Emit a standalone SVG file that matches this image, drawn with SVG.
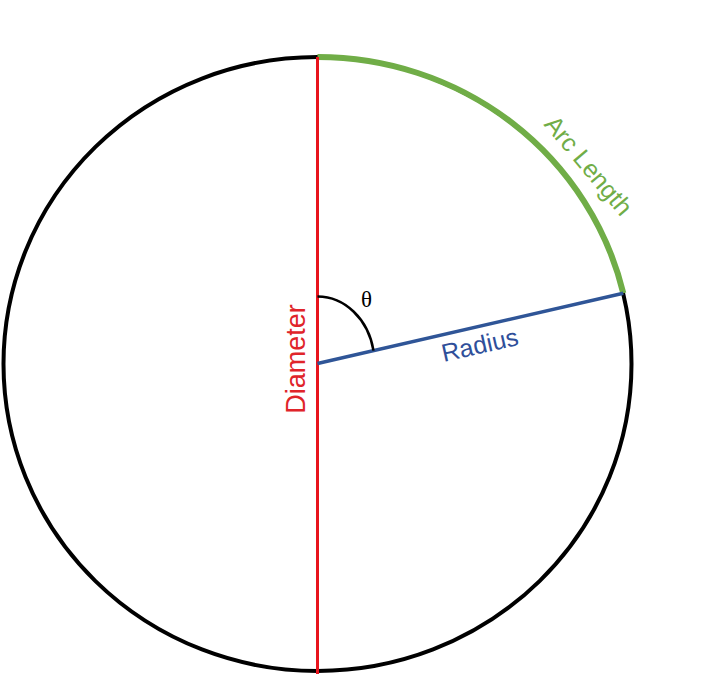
<svg xmlns="http://www.w3.org/2000/svg" width="720" height="674" viewBox="0 0 720 674">
<style>
.lbl{font-family:"Liberation Sans",Arial,sans-serif;}
.circle{fill:none;stroke:#000;stroke-width:4;}
</style>
<rect width="720" height="674" fill="#fff"/>
<g id="circle">
<ellipse class="circle" cx="317.5" cy="364" rx="314" ry="307"/>
</g>
<g id="connectors">
<path id="arc-length" d="M 317.5 57 A 314 307 0 0 1 623.3 293.3" fill="none" stroke="#70ad47" stroke-width="6"/>
<line id="diameter" x1="317.5" y1="57" x2="317.5" y2="674" stroke="#e8141c" stroke-width="3"/>
<line id="radius" x1="317.5" y1="363.5" x2="623.3" y2="293.3" stroke="#2f5597" stroke-width="3.5"/>
<path id="theta-arc" d="M 317.5 296.5 A 57 67 0 0 1 373.5 350.65" fill="none" stroke="#000" stroke-width="2.5"/>
</g>
<g id="labels">
<text class="lbl" x="305" y="359" font-size="27" fill="#e0242a" text-anchor="middle" transform="rotate(-90 305 359)">Diameter</text>
<text class="lbl" x="481.7" y="353.3" font-size="25" fill="#2f4f9a" text-anchor="middle" transform="rotate(-12.75 481.7 353.3)">Radius</text>
<text class="lbl" x="582" y="171" font-size="25" fill="#70ad47" text-anchor="middle" transform="rotate(50 582 171)">Arc Length</text>
<text x="366.5" y="306.5" font-family="'Liberation Serif','Times New Roman',serif" font-size="23" fill="#000" text-anchor="middle">θ</text>
</g>
</svg>
